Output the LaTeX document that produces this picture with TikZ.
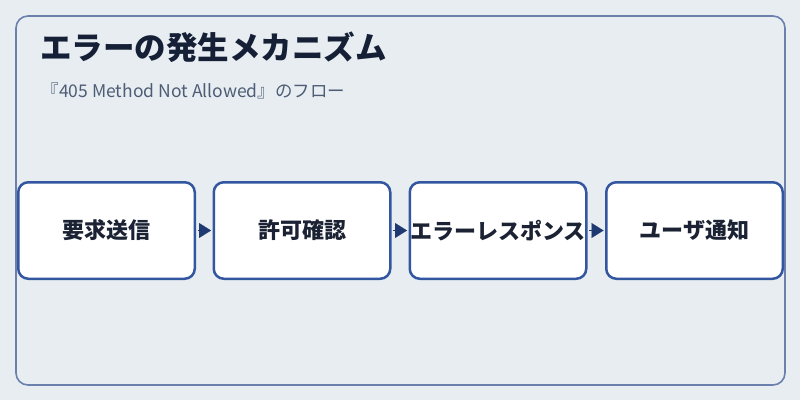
\documentclass[tikz,border=0pt]{standalone}
\usepackage{fontspec}
\setmainfont{Noto Sans CJK JP}
\usetikzlibrary{arrows.meta}
\definecolor{bg}{HTML}{E8EDF2}
\definecolor{frame}{HTML}{6B80AD}
\definecolor{boxline}{HTML}{3356A0}
\definecolor{arrowc}{HTML}{1F3A70}
\definecolor{titlec}{HTML}{152036}
\definecolor{subc}{HTML}{4D5D75}
\definecolor{textc}{HTML}{1A2233}
\tikzset{
  stepbox/.style={draw=boxline, line width=2.5pt, fill=white, rounded corners=10pt,
    minimum width=176.5pt, minimum height=96.5pt, inner sep=0pt,
    font=\fontsize{22pt}{26pt}\selectfont\bfseries, text=textc},
  flow/.style={draw=arrowc, line width=0.1pt, shorten <=1.5pt, shorten >=1.5pt,
    -{Triangle[length=12pt,width=15pt]}, arrowc}
}
\begin{document}
\begin{tikzpicture}[x=1pt,y=1pt]
\useasboundingbox (0,0) rectangle (800,400);
\fill[bg] (0,0) rectangle (800,400);
\draw[frame, line width=1.6pt, rounded corners=12pt] (16,15) rectangle (785,384);
\node[anchor=base west, inner sep=0pt, text=titlec, font=\fontsize{31.5pt}{36pt}\selectfont\bfseries] (title) at (40,341) {エラーの発生メカニズム};
\node[anchor=base west, inner sep=0pt, text=subc, font=\fontsize{17.5pt}{21pt}\selectfont] (sub) at (41.5,303) {『405 Method Not Allowed』のフロー};
\node[stepbox] (s1) at (106.5,169.5) {要求送信};
\node[stepbox] (s2) at (302,169.5) {許可確認};
\node[stepbox] (s3) at (498,169.5) {エラーレスポンス};
\node[stepbox] (s4) at (694.5,169.5) {ユーザ通知};
\draw[flow] (s1.east) -- (s2.west);
\draw[flow] (s2.east) -- (s3.west);
\draw[flow] (s3.east) -- (s4.west);
\end{tikzpicture}
\end{document}
